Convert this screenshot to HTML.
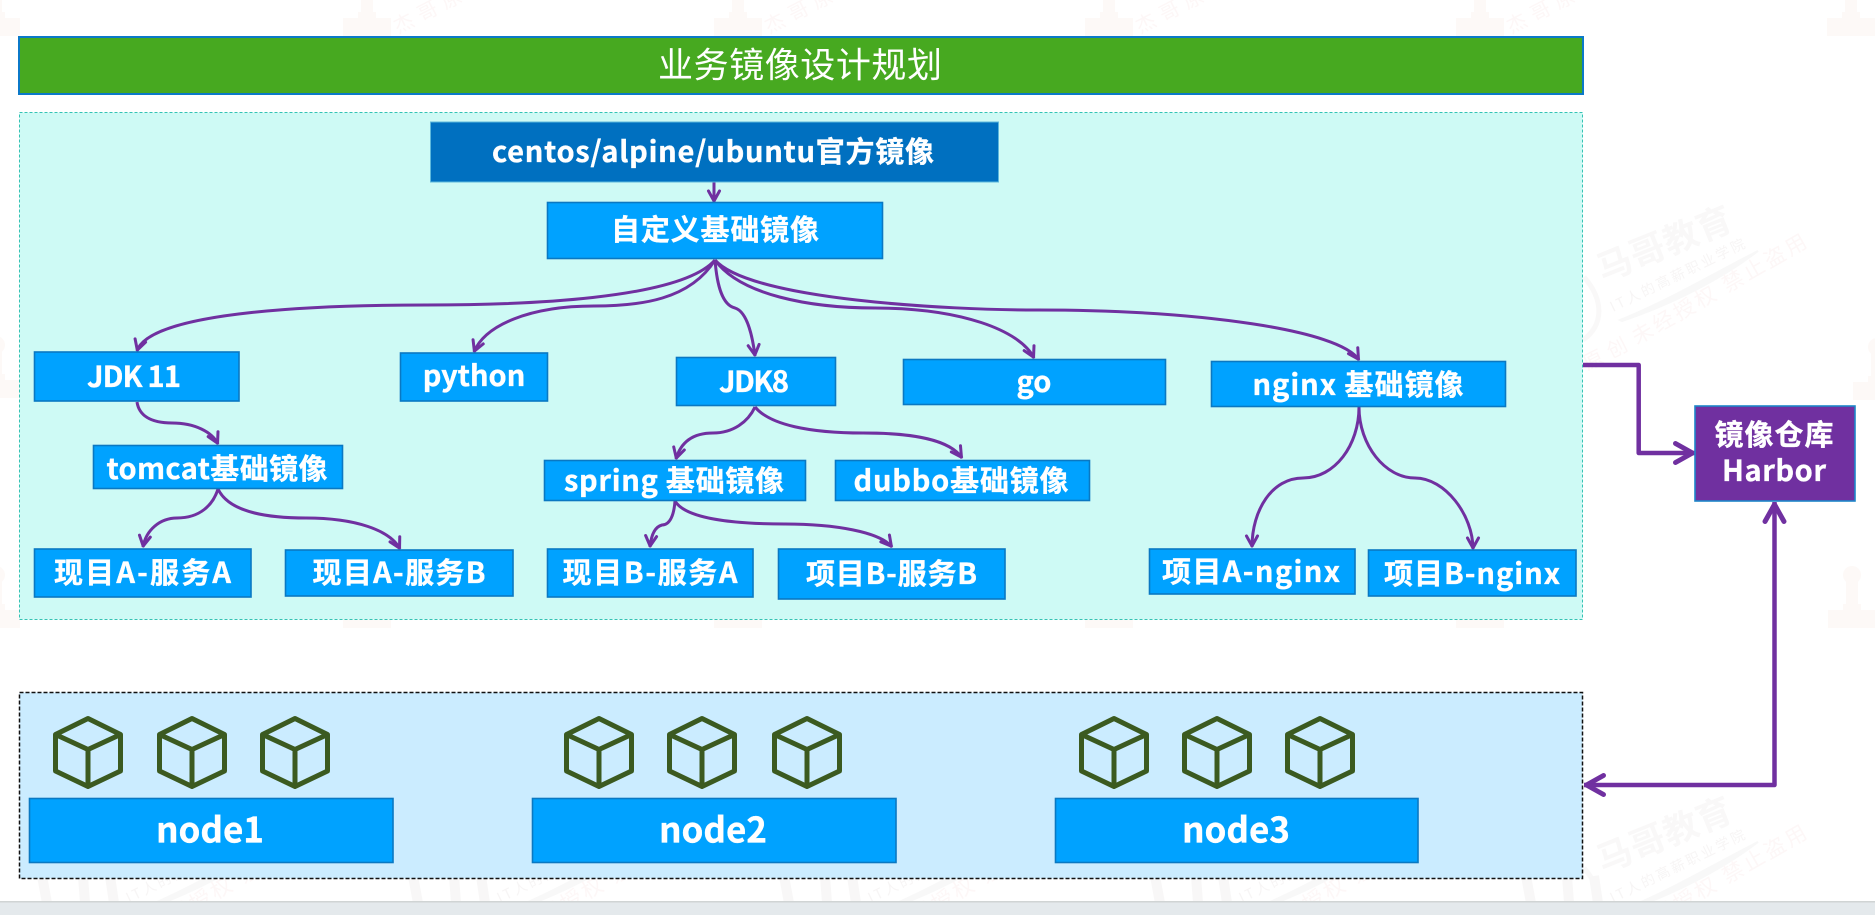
<!DOCTYPE html>
<html lang="zh">
<head>
<meta charset="utf-8">
<title>业务镜像设计规划</title>
<style>
html,body{margin:0;padding:0;background:#fff;width:1875px;height:915px;overflow:hidden}
svg{display:block}
text{font-family:"Noto Sans CJK SC","Liberation Sans",sans-serif}
.b{fill:#00a2ff;stroke:#0a78c2;stroke-width:1.6}
.t{fill:#fff;stroke:#fff;stroke-width:.35;font-weight:700;font-size:29px;text-anchor:middle;dominant-baseline:central}
.c{fill:none;stroke:#7030a0;stroke-width:3;marker-end:url(#a)}
.k{fill:none;stroke:#3b5a20;stroke-width:5;stroke-linejoin:round}
.wg{fill:#f9f8f8;font-weight:700}
.wp{fill:#fdf7f7}
</style>
</head>
<body>
<svg width="1875" height="915" viewBox="0 0 1875 915" xmlns="http://www.w3.org/2000/svg">
<defs>
<marker id="a" markerUnits="userSpaceOnUse" markerWidth="20" markerHeight="20" refX="15" refY="10" orient="auto"><path d="M4 4.5 L14 10 L4 15.500" fill="none" stroke="#7030a0" stroke-width="3" stroke-linecap="round" stroke-linejoin="round"/></marker>
<marker id="e" markerUnits="userSpaceOnUse" markerWidth="30" markerHeight="30" refX="24.5" refY="15" orient="auto-start-reverse"><path d="M5 5.5 L22 15 L5 24.5" fill="none" stroke="#7030a0" stroke-width="5" stroke-linecap="round" stroke-linejoin="round"/></marker>
<g id="s" fill="#fdf9f7"><circle cx="0" cy="-53" r="9"/><rect x="-6" y="-48" width="12" height="32"/><rect x="-9" y="-24" width="18" height="8"/><rect x="-24" y="-18" width="48" height="18"/></g>
<g id="wm">
<path d="M1584 277 C1604 300,1604 325,1583 340" fill="none" stroke="#f9f8f8" stroke-width="5"/>
<text class="wg" font-size="35" transform="translate(1603,282) rotate(-22)" textLength="142">马哥教育</text>
<text font-size="14" transform="translate(1613,312) rotate(-26)" fill="#f7f5f5" textLength="148">IT人的高薪职业学院</text>
<path d="M1620 320 C1670 300,1720 270,1758 251 C1720 280,1670 305,1622 321 Z" fill="#f8f8f8" stroke="#f8f8f8" stroke-width="2"/>
<text class="wp" font-size="21" transform="translate(1637,345) rotate(-30)" textLength="198">未经授权 禁止盗用</text>
</g>
<path id="arc" d="M42 876 L47 903 M83 876 L85 903 M110 876 L114 903" fill="none" stroke="#f8f7f7" stroke-width="10"/>
<g id="cube"><path class="k" d="M0 718.5 L32.5 734.5 V771 L0 786.5 L-32.5 771 V734.5 Z M-32.5 734.5 L0 749.5 L32.5 734.5 M0 749.5 V786.5"/></g>
</defs>
<rect width="1875" height="915" fill="#fff"/>

<!-- faint watermarks -->
<g>
<use href="#s" x="367" y="36"/><use href="#s" x="738" y="36"/><use href="#s" x="1109" y="36"/><use href="#s" x="1480" y="36"/><use href="#s" x="1851" y="36"/><use href="#s" x="-4" y="36"/>
<use href="#s" x="-4" y="398"/><use href="#s" x="1877" y="400"/><use href="#s" x="1852" y="628"/><use href="#s" x="-4" y="628"/>
<use href="#s" x="367" y="628"/><use href="#s" x="738" y="628"/><use href="#s" x="1109" y="628"/><use href="#s" x="1480" y="628"/>
<text class="wp" font-size="20" transform="translate(398,34) rotate(-27)" textLength="100">杰哥原创</text>
<text class="wp" font-size="20" transform="translate(769,34) rotate(-27)" textLength="100">杰哥原创</text>
<text class="wp" font-size="20" transform="translate(1140,34) rotate(-27)" textLength="100">杰哥原创</text>
<text class="wp" font-size="20" transform="translate(1511,34) rotate(-27)" textLength="100">杰哥原创</text>
<text class="wp" font-size="20" transform="translate(1540,395) rotate(-27)" textLength="100">杰哥原创</text>
<use href="#wm"/><use href="#wm" y="591"/><use href="#wm" x="-371" y="591"/><use href="#wm" x="-742" y="591"/><use href="#wm" x="-1113" y="591"/><use href="#wm" x="-1484" y="591"/>
<use href="#arc"/><use href="#arc" x="371"/><use href="#arc" x="742"/><use href="#arc" x="1113"/><use href="#arc" x="1484"/>
</g>

<!-- title -->
<rect x="19" y="37" width="1564" height="57" fill="#47a920" stroke="#0b79c8" stroke-width="2"/>
<text x="800" y="63" text-anchor="middle" dominant-baseline="central" fill="#fff" font-size="35" textLength="284">业务镜像设计规划</text>

<!-- teal group -->
<rect x="19.5" y="112.5" width="1563" height="507" fill="#cefaf5" stroke="#33c3b4" stroke-width="1" stroke-dasharray="3 2"/>

<!-- blue group -->
<rect x="19.5" y="692.5" width="1563" height="186" fill="#cbecff" stroke="#111" stroke-width="1.5" stroke-dasharray="4 2"/>

<!-- connectors -->
<g>
<path class="c" d="M714 182 V202"/>
<path class="c" d="M715 260 C680 300,520 305,426 305 C330 305,150 310,137 351"/>
<path class="c" d="M715 260 C690 300,640 306,594 306 C530 306,485 325,474 352"/>
<path class="c" d="M715 260 C717 285,722 305,735 308 C748 312,753 340,755 356"/>
<path class="c" d="M715 260 C740 295,810 308,875 308 C960 308,1020 330,1034 358"/>
<path class="c" d="M715 260 C750 300,950 310,1037 310 C1200 310,1340 330,1359 360"/>
<path class="c" d="M137 402 C139 415,150 423,172 423 C195 423,212 432,218 444"/>
<path class="c" d="M218 489 C213 505,200 518,177 518 C160 518,146 530,143 547"/>
<path class="c" d="M218 489 C228 510,260 518,306 518 C355 518,390 530,400 549"/>
<path class="c" d="M755 407 C748 422,733 433,713 433 C690 433,680 445,676 459"/>
<path class="c" d="M755 407 C770 425,810 433,863 433 C915 433,950 440,962 458"/>
<path class="c" d="M675 501 C674 515,670 525,662 525 C654 527,651 537,650 547"/>
<path class="c" d="M675 501 C685 518,730 524,785 524 C835 524,880 532,892 547"/>
<path class="c" d="M1359 407 C1359 445,1335 478,1303 478 C1272 478,1252 510,1252 547"/>
<path class="c" d="M1359 407 C1359 445,1385 478,1415 478 C1445 478,1473 515,1473 549"/>
<path d="M1583 365 H1638.7 V453 H1695" fill="none" stroke="#7030a0" stroke-width="4.5" stroke-linejoin="round" marker-end="url(#e)"/>
<path d="M1774.5 502 V785 H1584" fill="none" stroke="#7030a0" stroke-width="4.5" stroke-linejoin="round" marker-start="url(#e)" marker-end="url(#e)"/>
</g>

<!-- image boxes -->
<rect x="430.5" y="122" width="568" height="60" fill="#0070c0" stroke="#5db8dc" stroke-width="1"/>
<text class="t" x="713" y="150" textLength="442">centos/alpine/ubuntu官方镜像</text>

<rect class="b" x="547.5" y="202.5" width="335" height="56"/>
<text class="t" x="715" y="228" textLength="208">自定义基础镜像</text>

<rect class="b" x="34.5" y="352" width="204.5" height="49"/>
<text class="t" x="134" y="375" textLength="94">JDK 11</text>
<rect class="b" x="400.5" y="353" width="147" height="48"/>
<text class="t" x="474" y="374">python</text>
<rect class="b" x="676.5" y="357.5" width="159" height="48"/>
<text class="t" x="754" y="380" textLength="70">JDK8</text>
<rect class="b" x="903.5" y="359.5" width="262" height="45"/>
<text class="t" x="1034" y="380">go</text>
<rect class="b" x="1211.5" y="361.5" width="294" height="45"/>
<text class="t" x="1358" y="383" textLength="211">nginx 基础镜像</text>

<rect class="b" x="93.5" y="445.5" width="249" height="43"/>
<text class="t" x="217" y="467" textLength="221">tomcat基础镜像</text>
<rect class="b" x="544.5" y="460.5" width="261" height="40"/>
<text class="t" x="674" y="479" textLength="220">spring 基础镜像</text>
<rect class="b" x="835.5" y="460.5" width="254" height="40"/>
<text class="t" x="961" y="479" textLength="215">dubbo基础镜像</text>

<rect class="b" x="34.5" y="549" width="216.5" height="48"/>
<text class="t" x="142.500" y="571" textLength="177">现目A-服务A</text>
<rect class="b" x="285.500" y="550" width="227.500" height="46"/>
<text class="t" x="399" y="571" textLength="173">现目A-服务B</text>
<rect class="b" x="547.5" y="549" width="205.500" height="48"/>
<text class="t" x="650" y="571" textLength="175">现目B-服务A</text>
<rect class="b" x="778.5" y="549" width="226.500" height="50"/>
<text class="t" x="891.500" y="572" textLength="171">项目B-服务B</text>
<rect class="b" x="1149.5" y="549" width="205.500" height="45"/>
<text class="t" x="1251" y="570" textLength="178">项目A-nginx</text>
<rect class="b" x="1368.5" y="550" width="207.500" height="46"/>
<text class="t" x="1472" y="572" textLength="176">项目B-nginx</text>

<!-- harbor -->
<rect x="1695" y="406" width="160" height="95" fill="#7030a0" stroke="#1d86c8" stroke-width="1.6"/>
<text class="t" x="1774" y="433" textLength="119">镜像仓库</text>
<text class="t" x="1774" y="469" textLength="104">Harbor</text>

<!-- cubes -->
<use href="#cube" x="88"/><use href="#cube" x="192"/><use href="#cube" x="295"/>
<use href="#cube" x="599"/><use href="#cube" x="702"/><use href="#cube" x="807"/>
<use href="#cube" x="1114"/><use href="#cube" x="1217"/><use href="#cube" x="1320"/>

<!-- nodes -->
<rect class="b" x="29.500" y="798.500" width="363.500" height="64"/>
<text class="t" style="font-size:35px" x="210" y="828">node1</text>
<rect class="b" x="532.500" y="798.500" width="363.500" height="64"/>
<text class="t" style="font-size:35px" x="713" y="828">node2</text>
<rect class="b" x="1055.500" y="798.500" width="362.500" height="64"/>
<text class="t" style="font-size:35px" x="1236" y="828">node3</text>

<!-- bottom strip -->
<rect x="0" y="902" width="1875" height="13" fill="#e4e9ec"/>
<rect x="0" y="901" width="1875" height="1.5" fill="#d0d4d4"/>
</svg>
</body>
</html>
